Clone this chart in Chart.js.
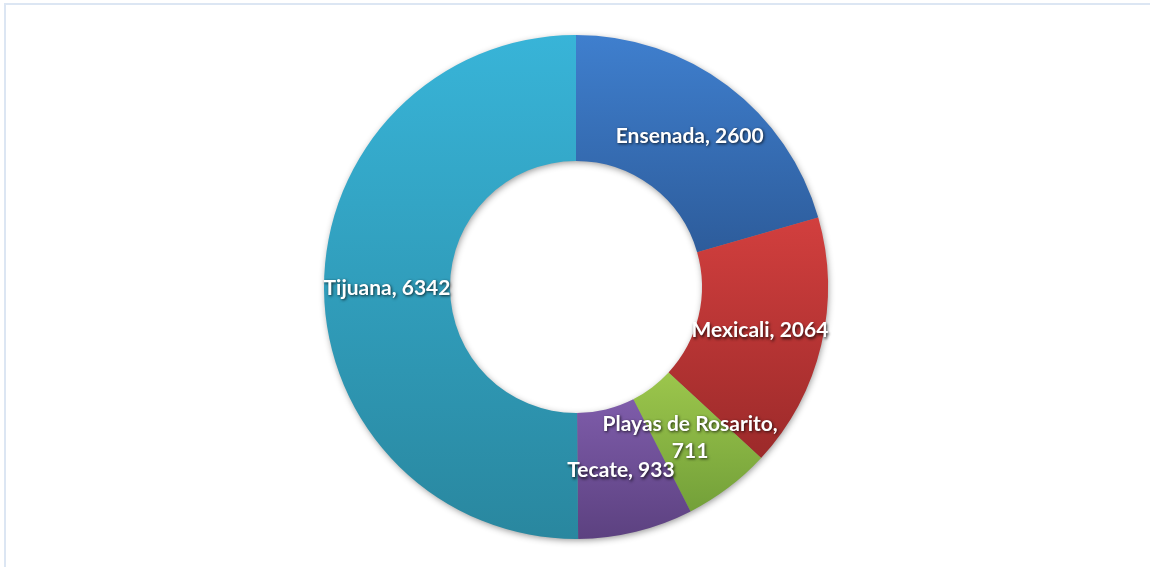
<!DOCTYPE html>
<html>
<head>
<meta charset="utf-8">
<script src="https://cdn.jsdelivr.net/npm/chart.js@4/dist/chart.umd.min.js"></script>
<style>
  html, body { margin: 0; padding: 0; background: #ffffff; overflow: hidden; }
  #wrap { position: relative; width: 1150px; height: 567px; }
  #frame { position: absolute; left: 4px; top: 3px; width: 1200px; height: 620px;
           border-left: 2px solid #dce6f3; border-top: 2px solid #dce6f3; pointer-events: none; }
  canvas { position: absolute; left: 0; top: 0; }
</style>
</head>
<body>
<div id="wrap">
  <canvas id="c" width="1150" height="567"></canvas>
  <div id="frame"></div>
</div>
<script>
const categories = ["Ensenada", "Mexicali", "Playas de Rosarito", "Tecate", "Tijuana"];
const values = [2600, 2064, 711, 933, 6342];
const topColors = ["#3f7fce", "#d23f3e", "#9cc64c", "#7e5caa", "#38b4d8"];
const bottomColors = ["#2d5c9b", "#9c2a2a", "#73a039", "#5c4180", "#29879f"];

function arcBBox(el) {
  const p = el.getProps(['x', 'y', 'startAngle', 'endAngle', 'innerRadius', 'outerRadius'], true);
  let minY = Infinity, maxY = -Infinity;
  const n = 60;
  for (let i = 0; i <= n; i++) {
    const a = p.startAngle + (p.endAngle - p.startAngle) * i / n;
    for (const r of [p.innerRadius, p.outerRadius]) {
      const y = p.y + Math.sin(a) * r;
      minY = Math.min(minY, y); maxY = Math.max(maxY, y);
    }
  }
  return { minY, maxY };
}

const gradientPlugin = {
  id: 'sliceGradients',
  beforeDatasetsDraw(chart) {
    const ctx = chart.ctx;
    const meta = chart.getDatasetMeta(0);
    meta.data.forEach((el, i) => {
      const bb = arcBBox(el);
      const g = ctx.createLinearGradient(0, bb.minY, 0, bb.maxY);
      g.addColorStop(0, topColors[i]);
      g.addColorStop(1, bottomColors[i]);
      el.options.backgroundColor = g;
    });
    // ring shadow
    const first = meta.data[0];
    if (first) {
      const p = first.getProps(['x', 'y', 'innerRadius', 'outerRadius'], true);
      ctx.save();
      ctx.shadowColor = 'rgba(0,0,0,0.45)';
      ctx.shadowBlur = 7;
      ctx.shadowOffsetX = 1;
      ctx.shadowOffsetY = 2;
      ctx.fillStyle = '#888';
      ctx.beginPath();
      ctx.arc(p.x, p.y, p.outerRadius - 1, 0, Math.PI * 2);
      ctx.arc(p.x, p.y, p.innerRadius + 1, 0, Math.PI * 2, true);
      ctx.closePath();
      ctx.fill();
      ctx.restore();
    }
  }
};

const labelPlugin = {
  id: 'sliceLabels',
  afterDatasetsDraw(chart) {
    const ctx = chart.ctx;
    const meta = chart.getDatasetMeta(0);
    ctx.save();
    ctx.font = 'bold 21px Lato, "Open Sans", sans-serif';
    ctx.textAlign = 'center';
    ctx.textBaseline = 'middle';
    ctx.fillStyle = '#ffffff';
    ctx.shadowColor = 'rgba(0,0,0,0.75)';
    ctx.shadowBlur = 3;
    ctx.shadowOffsetX = 1;
    ctx.shadowOffsetY = 1.5;
    const maxW = 185;
    const lineH = 27;
    meta.data.forEach((el, i) => {
      const pos = el.tooltipPosition(true);
      const full = categories[i] + ', ' + values[i];
      let lines = [full];
      if (ctx.measureText(full).width > maxW) {
        lines = [categories[i] + ',', String(values[i])];
      }
      const y0 = pos.y - (lines.length - 1) * lineH / 2;
      lines.forEach((t, k) => ctx.fillText(t, pos.x, y0 + k * lineH));
    });
    ctx.restore();
  }
};

new Chart(document.getElementById('c'), {
  type: 'doughnut',
  data: {
    labels: categories,
    datasets: [{
      data: values,
      backgroundColor: topColors,
      borderWidth: 0,
      borderColor: 'rgba(0,0,0,0)'
    }]
  },
  options: {
    responsive: false,
    animation: false,
    cutout: '50%',
    layout: { padding: { top: 35, bottom: 28, left: 2, right: 0 } },
    plugins: {
      legend: { display: false },
      tooltip: { enabled: false }
    }
  },
  plugins: [gradientPlugin, labelPlugin]
});
</script>
</body>
</html>
